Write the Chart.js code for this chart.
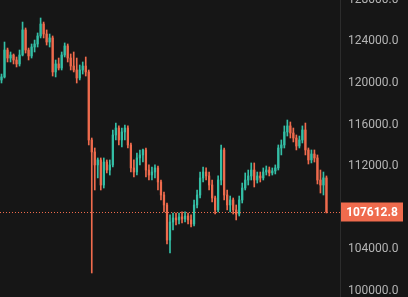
<!DOCTYPE html>
<html>
<head>
<meta charset="utf-8">
<script src="https://cdn.jsdelivr.net/npm/chart.js@4.4.1/dist/chart.umd.min.js"></script>
<style>
  html, body { margin: 0; padding: 0; background: #161616; }
  canvas { display: block; }
</style>
</head>
<body>
<canvas id="PriceChart" width="408" height="297"></canvas>
<script>
// Candle values (one candle every ~3px)
const opens = [120290,120580,123170,122400,122690,122210,121830,122690,125100,123170,
  122600,123460,123750,124520,125670,124710,123940,124330,121060,121830,
  121440,122690,123560,122400,121630,121250,120480,121250,121630,121060,
  114520,113370,112120,112600,110190,112400,111630,112120,115000,115670,
  114520,115290,115670,114040,111830,111440,112790,113080,113560,111630,
  111150,111440,111830,110480,109230,108270,104900,106630,107020,106830,
  107120,106920,107210,106830,106440,108270,109230,110870,111440,111060,
  110190,108940,107790,110670,113560,109230,108270,108750,107790,107400,
  108750,109900,110670,111060,111630,110670,111060,110870,111440,111630,
  111350,111540,111830,113750,114040,115290,115870,115190,114710,113940,
  114520,115480,113560,112600,113170,112790,110670,110190,110870];
const highs = [120860,123940,123360,122980,122790,122500,123170,125860,125290,123360,
  123750,124130,124810,126250,125860,125100,124710,124520,122210,122400,
  122980,123850,123750,122790,122980,122400,121730,122020,122500,121250,
  114710,113750,112790,112790,112790,112600,112600,115480,116150,115870,
  115670,115960,115870,114230,112600,113270,113560,113650,113750,112120,
  111920,112120,112020,110670,109520,108460,107310,107500,107500,107500,
  107600,107600,107500,107310,108750,109710,111440,111920,111830,111440,
  110670,109130,111060,114040,113750,109710,109130,108940,108270,109130,
  110380,111350,111630,112310,112310,111440,111440,111830,112020,111920,
  111830,112120,114040,114520,115870,116440,116250,115670,115000,114900,
  115870,116150,113750,113560,113560,113080,111630,111440,111060];
const lows = [120000,120480,122020,122020,121830,121540,121630,122600,122880,122210,
  122400,122980,123460,124330,124330,123650,123460,120670,120580,121250,
  121250,122500,122020,121250,121060,120000,120290,120860,120670,114040,
  101730,109710,110870,109710,109900,111350,111150,111920,114520,114040,
  113850,114520,113750,111440,110960,111150,112120,112400,110960,110670,
  110670,110870,109710,108750,107600,104520,103650,105870,106350,106440,
  106540,106630,106440,106150,106250,107980,108940,110480,110670,109710,
  108560,107400,107600,110190,108750,107790,107600,107400,106830,107210,
  108460,109710,110190,110670,110000,110380,110480,110670,111150,111060,
  111150,111250,111630,113080,113750,114900,114710,114330,113560,113750,
  114230,113080,112210,112310,112400,110290,109420,109230,107500];
const closes = [120580,123170,122400,122690,122210,121830,122690,125100,123170,122600,
  123460,123750,124520,125670,124710,123940,124330,121060,121830,121440,
  122690,123560,122400,121630,121250,120480,121250,121630,121060,114520,
  113370,112120,112600,110190,112400,111630,112120,115000,115670,114520,
  115290,115670,114040,111830,111440,112790,113080,113560,111630,111150,
  111440,111830,110480,109230,108270,104900,106630,107020,106830,107120,
  106920,107210,106830,106440,108270,109230,110870,111440,111060,110190,
  108940,107790,110670,113560,109230,108270,108750,107790,107400,108750,
  109900,110670,111060,111630,110670,111060,110870,111440,111630,111350,
  111540,111830,113750,114040,115290,115870,115190,114710,113940,114520,
  115480,113560,112600,113170,112790,110670,110190,110870,107612.8];

// Right axis labels (108000 is hidden behind the last price tag)
const yTicks = [100000, 104000, 112000, 116000, 120000, 124000, 128000];
const lastPrice = 107612.8;
const slotCount = 113;

const UP = "#34bfa6";
const DOWN = "#ef6b4d";
const BG = "#161616";

// category slots, the last few stay empty on the right
const slots = Array.from({ length: slotCount }, (_, i) => String(i));
const candleColors = closes.map((c, i) => (c >= opens[i] ? UP : DOWN));

// paints the background and the last price line with its tag
const priceTag = {
  id: "priceTag",
  beforeDraw(chart) {
    const ctx = chart.ctx;
    ctx.save();
    ctx.fillStyle = BG;
    ctx.fillRect(0, 0, chart.width, chart.height);
    ctx.restore();
  },
  afterDraw(chart) {
    const ctx = chart.ctx;
    const area = chart.chartArea;
    const y = Math.round(chart.scales.y.getPixelForValue(lastPrice)) + 0.5;
    ctx.save();
    ctx.strokeStyle = DOWN;
    ctx.lineWidth = 1;
    ctx.setLineDash([1, 2]);
    ctx.beginPath();
    ctx.moveTo(area.left, y);
    ctx.lineTo(area.right, y);
    ctx.stroke();
    ctx.setLineDash([]);
    ctx.fillStyle = DOWN;
    ctx.fillRect(area.right + 1, y - 10, 62, 19);
    ctx.fillStyle = "#ffffff";
    ctx.font = "bold 12px Roboto";
    ctx.textAlign = "center";
    ctx.textBaseline = "middle";
    ctx.fillText(lastPrice.toFixed(1), area.right + 32, y);
    ctx.restore();
  }
};

const contex = document.getElementById("PriceChart").getContext("2d");
const chartPrice = new Chart(contex, {
  type: "bar",
  data: {
    labels: slots,
    datasets: [
      {
        // bodies, open to close
        label: "body",
        data: opens.map((o, i) => [o, closes[i]]),
        backgroundColor: candleColors,
        barThickness: 1.6,
        minBarLength: 1,
        grouped: false,
        order: 0
      },
      {
        // wicks, low to high
        label: "wick",
        data: lows.map((l, i) => [l, highs[i]]),
        backgroundColor: candleColors,
        barThickness: 1,
        grouped: false,
        order: 1
      }
    ]
  },
  options: {
    responsive: false,
    animation: false,
    layout: { padding: 0 },
    plugins: {
      legend: { display: false },
      tooltip: { enabled: false }
    },
    scales: {
      x: { display: false },
      y: {
        position: "right",
        min: 99420,
        max: 127980,
        grid: { display: false, drawTicks: false },
        border: { display: true, color: "#2c2c2c" },
        afterBuildTicks: (s) => { s.ticks = yTicks.map(v => ({ value: v })); },
        // keep the plot full height, labels may run past the edges
        afterFit: (s) => { s.width = 68; s.paddingTop = 0; s.paddingBottom = 0; },
        ticks: {
          autoSkip: false,
          padding: 8,
          color: "#b4b4b4",
          font: { family: "Roboto", size: 12 },
          callback: (v) => Number(v).toFixed(1)
        }
      }
    }
  },
  plugins: [priceTag]
});
</script>
</body>
</html>
